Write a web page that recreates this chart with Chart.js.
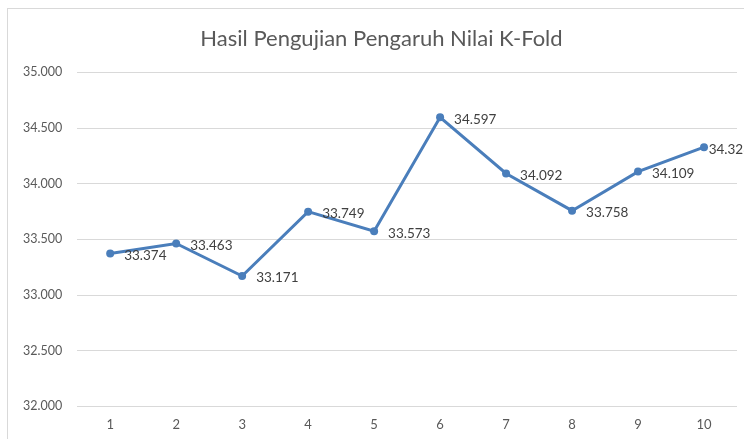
<!DOCTYPE html>
<html>
<head>
<meta charset="utf-8">
<script src="https://cdn.jsdelivr.net/npm/chart.js@4"></script>
<style>
    html, body { margin: 0; padding: 0; background: #fff; overflow: hidden; }
    #wrap {
        position: absolute; left: 7px; top: 8px;
        width: 747px; height: 440px;
        border-left: 1px solid #d9d9d9; border-top: 1px solid #d9d9d9;
    }
</style>
</head>
<body>
<div id="wrap"><canvas id="kfoldChart" width="747" height="440"></canvas></div>
<script>
const folds = ['1', '2', '3', '4', '5', '6', '7', '8', '9', '10'];
const akurasi = [33.374, 33.463, 33.171, 33.749, 33.573, 34.597, 34.092, 33.758, 34.109, 34.328];
const yMin = 32, yMax = 35, yStep = 0.5;

// label nilai di sebelah kanan titik (gaya Excel), didorong masuk kalau keluar kotak
const labelKanan = {
    id: 'labelKanan',
    afterDatasetsDraw(chart) {
        const ctx = chart.ctx;
        const meta = chart.getDatasetMeta(0);
        ctx.save();
        ctx.font = '13.5px Lato';
        ctx.fillStyle = '#404040';
        ctx.textAlign = 'left';
        ctx.textBaseline = 'middle';
        meta.data.forEach((pt, i) => {
            const teks = akurasi[i].toFixed(3);
            const lebar = ctx.measureText(teks).width;
            const x = Math.min(pt.x + 14, chart.width - lebar - 4);
            ctx.fillText(teks, x, pt.y + 2);
        });
        ctx.restore();
    }
};

// judul dipusatkan ke seluruh kotak grafik, bukan area tanpa padding kanan
const geserJudul = {
    id: 'geserJudul',
    afterLayout(chart) {
        if (chart.titleBlock) {
            chart.titleBlock.right += 18;
        }
    }
};

document.addEventListener("DOMContentLoaded", function () {
    const ctx = document.getElementById('kfoldChart').getContext('2d');
    new Chart(ctx, {
        type: 'line',
        data: {
            labels: folds,
            datasets: [{
                label: 'Akurasi',
                data: akurasi,
                borderColor: '#4a7ebb',
                backgroundColor: '#4a7ebb',
                borderWidth: 3,
                pointRadius: 4,
                pointBackgroundColor: '#4a7ebb',
                pointBorderWidth: 0,
                tension: 0,
                fill: false
            }]
        },
        options: {
            responsive: false,
            animation: false,
            layout: { padding: { left: 0, right: 18, top: 0, bottom: 5 } },
            plugins: {
                legend: { display: false },
                tooltip: { enabled: false },
                title: {
                    display: true,
                    text: 'Hasil Pengujian Pengaruh Nilai K-Fold',
                    color: '#595959',
                    font: { family: 'Lato', size: 22, weight: 'normal' },
                    padding: { top: 17, bottom: 20 }
                }
            },
            scales: {
                x: {
                    offset: true,
                    grid: { display: false, drawTicks: false },
                    border: { display: false },
                    ticks: { color: '#595959', font: { family: 'Lato', size: 13 }, padding: 11 }
                },
                y: {
                    min: yMin,
                    max: yMax,
                    grid: { color: '#d9d9d9', drawTicks: false },
                    border: { display: false },
                    ticks: {
                        stepSize: yStep,
                        color: '#595959',
                        font: { family: 'Lato', size: 12.5 },
                        padding: 15,
                        callback: v => v.toFixed(3)
                    }
                }
            }
        },
        plugins: [labelKanan, geserJudul]
    });
});
</script>
</body>
</html>
